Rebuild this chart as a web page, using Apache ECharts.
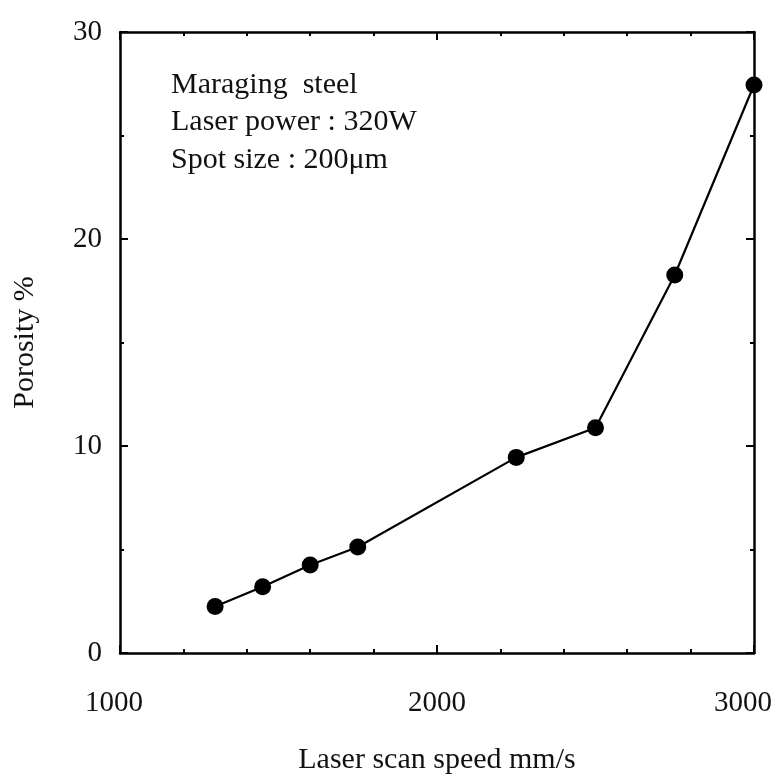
<!DOCTYPE html>
<html>
<head>
<meta charset="utf-8">
<script src="https://cdn.jsdelivr.net/npm/echarts@6/dist/echarts.min.js"></script>
<style>
html,body{margin:0;padding:0;background:#fff;overflow:hidden;}
#chart{width:777px;height:776px;}
</style>
</head>
<body>
<div id="chart"></div>
<script>
// ---- data ----
const scanSpeed = [1300, 1450, 1600, 1750, 2250, 2500, 2750, 3000];
const porosity = [2.25, 3.2, 4.25, 5.12, 9.45, 10.88, 18.26, 27.44];
const xTicks = [1000, 2000, 3000];
const yTicks = [0, 10, 20, 30];
const annotationLines = ['Maraging  steel', 'Laser power : 320W', 'Spot size : 200μm'];
const xTitle = 'Laser scan speed mm/s';
const yTitle = 'Porosity %';

const FONT = '"Liberation Serif", "Times New Roman", serif';
const BLACK = '#000';

const chart = echarts.init(document.getElementById('chart'), null, {renderer: 'canvas', width: 777, height: 776});

function axisCommon(showLabel) {
  return {
    axisLine: {show: true, onZero: false, lineStyle: {color: BLACK, width: 2.5}},
    axisTick: {show: true, inside: true, length: 8, lineStyle: {color: BLACK, width: 2}},
    minorTick: {show: true, length: 4, lineStyle: {color: BLACK, width: 2}},
    splitLine: {show: false},
    minorSplitLine: {show: false},
    axisLabel: {show: showLabel, color: '#111', fontFamily: FONT, fontSize: 29, formatter: v => String(v), hideOverlap: false}
  };
}

const xBase = axisCommon(true);
const xTop = axisCommon(false);
const yBase = axisCommon(true);
const yRight = axisCommon(false);

const xFirst = xTicks[0], xLast = xTicks[xTicks.length - 1];

const option = {
  backgroundColor: '#fff',
  animation: false,
  grid: {left: 120, right: 23, top: 32, bottom: 123, containLabel: false, outerBoundsMode: 'none'},
  xAxis: [
    Object.assign({}, xBase, {
      type: 'value', position: 'bottom', min: xFirst, max: xLast, interval: 1000,
      minorTick: Object.assign({}, xBase.minorTick, {splitNumber: 5}),
      axisLabel: Object.assign({}, xBase.axisLabel, {
        margin: 36,
        formatter: v => v === xLast ? '{last|' + v + '}' : (v === xFirst ? '{first|' + v + '}' : String(v)),
        rich: {
          last: {fontFamily: FONT, fontSize: 29, color: '#111', padding: [0, 22, 0, 0]},
          first: {fontFamily: FONT, fontSize: 29, color: '#111', padding: [0, 12, 0, 0]}
        }
      }),
      name: xTitle, nameLocation: 'middle', nameGap: 92,
      nameTextStyle: {color: '#111', fontFamily: FONT, fontSize: 30}
    }),
    Object.assign({}, xTop, {
      type: 'value', position: 'top', min: xFirst, max: xLast, interval: 1000,
      minorTick: Object.assign({}, xTop.minorTick, {splitNumber: 5})
    })
  ],
  yAxis: [
    Object.assign({}, yBase, {
      type: 'value', position: 'left', min: yTicks[0], max: yTicks[yTicks.length - 1], interval: 10,
      minorTick: Object.assign({}, yBase.minorTick, {splitNumber: 2}),
      axisLabel: Object.assign({}, yBase.axisLabel, {margin: 18}),
      name: yTitle, nameLocation: 'middle', nameGap: 80, nameRotate: 90,
      nameTextStyle: {color: '#111', fontFamily: FONT, fontSize: 30}
    }),
    Object.assign({}, yRight, {
      type: 'value', position: 'right', min: yTicks[0], max: yTicks[yTicks.length - 1], interval: 10,
      minorTick: Object.assign({}, yRight.minorTick, {splitNumber: 2})
    })
  ],
  graphic: annotationLines.map((t, i) => ({
    type: 'text', left: 171, top: 70 + i * 37.5, z: 10,
    style: {text: t, font: '30px ' + FONT, fill: '#111'}
  })),
  series: [{
    type: 'line',
    xAxisIndex: 0, yAxisIndex: 0,
    data: scanSpeed.map((s, i) => [s, porosity[i]]),
    symbol: 'circle', symbolSize: 17,
    itemStyle: {color: BLACK},
    lineStyle: {color: BLACK, width: 2.2},
    clip: false
  }]
};
chart.setOption(option);
</script>
</body>
</html>
